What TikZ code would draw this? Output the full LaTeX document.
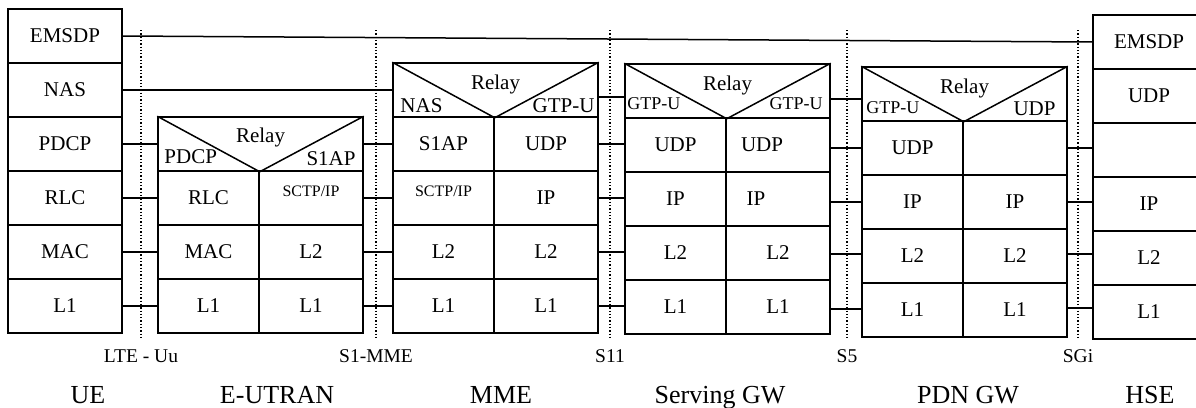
\documentclass[tikz,border=0pt]{standalone}
\usepackage{fontspec}
\setmainfont{Liberation Serif}
\usepackage{tikz}
\usetikzlibrary{calc}

\begin{document}
\begin{tikzpicture}[x=1pt, y=-1pt,
  layer/.style={draw, line width=1.5pt, inner sep=0pt, minimum height=54pt, font=\fontsize{21}{25}\selectfont},
  small/.style={font=\fontsize{16}{19}\selectfont, yshift=7pt},
  relaytxt/.style={inner sep=0pt, font=\fontsize{21}{25}\selectfont},
  gtptxt/.style={inner sep=0pt, font=\fontsize{18}{21}\selectfont},
  link/.style={line width=1.5pt},
  iface/.style={dotted, line width=1.3pt},
  ifacetxt/.style={anchor=base, inner sep=0pt, font=\fontsize{19.5}{23}\selectfont},
  entity/.style={anchor=base, inner sep=0pt, font=\fontsize{26}{30}\selectfont}]
\useasboundingbox (0,0) rectangle (1196,407);
%%% The dotted lines represents the interfaces
\coordinate (uu-top) at (141,30);   \coordinate (uu-bot) at (141,337);
\coordinate (s1-top) at (376,30);   \coordinate (s1-bot) at (376,337);
\coordinate (s11-top) at (610,30);  \coordinate (s11-bot) at (610,337);
\coordinate (s5-top) at (847,30);   \coordinate (s5-bot) at (847,337);
\coordinate (sgi-top) at (1078,30); \coordinate (sgi-bot) at (1078,337);
\draw[iface] (uu-top) -- (uu-bot);
\draw[iface] (s1-top) -- (s1-bot);
\draw[iface] (s11-top) -- (s11-bot);
\draw[iface] (s5-top) -- (s5-bot);
\draw[iface] (sgi-top) -- (sgi-bot);
\node[ifacetxt] (uu) at (141,362) {LTE - Uu};
\node[ifacetxt] (s1mme) at (376,362) {S1-MME};
\node[ifacetxt] (s11) at (610,362) {S11};
\node[ifacetxt] (s5) at (847,362) {S5};
\node[ifacetxt] (sgi) at (1078,362) {SGi};
%%% The nodes represents the UE stack
\node[layer, minimum width=114pt] (ue-emsdp) at (65,36) {EMSDP};
\node[layer, minimum width=114pt] (ue-nas) at (65,90) {NAS};
\node[layer, minimum width=114pt] (ue-pdcp) at (65,144) {PDCP};
\node[layer, minimum width=114pt] (ue-rlc) at (65,198) {RLC};
\node[layer, minimum width=114pt] (ue-mac) at (65,252) {MAC};
\node[layer, minimum width=114pt] (ue-l1) at (65,306) {L1};
%%% The nodes represents the E-UTRAN stack
\node[layer, minimum width=205pt] (enb-relay) at (260.5,144) {};
\node[layer, minimum width=101pt] (enb-rlc) at (208.5,198) {RLC};
\node[layer, minimum width=104pt] (enb-sctp) at (311,198) {};
\node[small] (enb-sctptxt) at (311,198) {SCTP/IP};
\node[layer, minimum width=101pt] (enb-mac) at (208.5,252) {MAC};
\node[layer, minimum width=104pt] (enb-l2) at (311,252) {L2};
\node[layer, minimum width=101pt] (enb-l1a) at (208.5,306) {L1};
\node[layer, minimum width=104pt] (enb-l1b) at (311,306) {L1};
\draw[link] (enb-relay.north west) -- (enb-relay.south west -| enb-rlc.east) -- (enb-relay.north east);
\node[relaytxt, anchor=north] (enb-relaytxt) at ([yshift=-11pt]enb-relay.north) {Relay};
\node[relaytxt, anchor=base west] (enb-pdcp) at ([xshift=7pt, yshift=8pt]enb-relay.south west) {PDCP};
\node[relaytxt, anchor=base east] (enb-s1ap) at ([xshift=-8pt, yshift=6pt]enb-relay.south east) {S1AP};
%%% The nodes represents the MME stack
\node[layer, minimum width=205pt] (mme-relay) at (495.5,90) {};
\node[layer, minimum width=101pt] (mme-s1ap) at (443.5,144) {S1AP};
\node[layer, minimum width=104pt] (mme-udp) at (546,144) {UDP};
\node[layer, minimum width=101pt] (mme-sctp) at (443.5,198) {};
\node[small] (mme-sctptxt) at (443.5,198) {SCTP/IP};
\node[layer, minimum width=104pt] (mme-ip) at (546,198) {IP};
\node[layer, minimum width=101pt] (mme-l2a) at (443.5,252) {L2};
\node[layer, minimum width=104pt] (mme-l2b) at (546,252) {L2};
\node[layer, minimum width=101pt] (mme-l1a) at (443.5,306) {L1};
\node[layer, minimum width=104pt] (mme-l1b) at (546,306) {L1};
\draw[link] (mme-relay.north west) -- (mme-relay.south west -| mme-s1ap.east) -- (mme-relay.north east);
\node[relaytxt, anchor=north] (mme-relaytxt) at ([yshift=-12pt]mme-relay.north) {Relay};
\node[relaytxt, anchor=base west] (mme-nas) at ([xshift=8pt, yshift=5pt]mme-relay.south west) {NAS};
\node[relaytxt, anchor=base east] (mme-gtp) at ([xshift=-4pt, yshift=5pt]mme-relay.south east) {GTP-U};
%%% The nodes represents the Serving GW stack
\node[layer, minimum width=205pt] (sgw-relay) at (727.5,91) {};
\node[layer, minimum width=101pt] (sgw-udpa) at (675.5,145) {UDP};
\node[layer, minimum width=104pt] (sgw-udpb) at (778,145) {};
\node[layer, draw=none] (sgw-udptxt) at (762,145) {UDP};
\node[layer, minimum width=101pt] (sgw-ipa) at (675.5,199) {IP};
\node[layer, minimum width=104pt] (sgw-ipb) at (778,199) {};
\node[layer, draw=none] (sgw-iptxt) at (756,199) {IP};
\node[layer, minimum width=101pt] (sgw-l2a) at (675.5,253) {L2};
\node[layer, minimum width=104pt] (sgw-l2b) at (778,253) {L2};
\node[layer, minimum width=101pt] (sgw-l1a) at (675.5,307) {L1};
\node[layer, minimum width=104pt] (sgw-l1b) at (778,307) {L1};
\draw[link] (sgw-relay.north west) -- (sgw-relay.south west -| sgw-udpa.east) -- (sgw-relay.north east);
\node[relaytxt, anchor=north] (sgw-relaytxt) at ([yshift=-12pt]sgw-relay.north) {Relay};
\node[gtptxt, anchor=base west] (sgw-gtpa) at ([xshift=3pt, yshift=9pt]sgw-relay.south west) {GTP-U};
\node[gtptxt, anchor=base east] (sgw-gtpb) at ([xshift=-8pt, yshift=9pt]sgw-relay.south east) {GTP-U};
%%% The nodes represents the PDN GW stack
\node[layer, minimum width=205pt] (pdn-relay) at (964.5,94) {};
\node[layer, minimum width=101pt] (pdn-udp) at (912.5,148) {UDP};
\node[layer, minimum width=104pt] (pdn-empty) at (1015,148) {};
\node[layer, minimum width=101pt] (pdn-ipa) at (912.5,202) {IP};
\node[layer, minimum width=104pt] (pdn-ipb) at (1015,202) {IP};
\node[layer, minimum width=101pt] (pdn-l2a) at (912.5,256) {L2};
\node[layer, minimum width=104pt] (pdn-l2b) at (1015,256) {L2};
\node[layer, minimum width=101pt] (pdn-l1a) at (912.5,310) {L1};
\node[layer, minimum width=104pt] (pdn-l1b) at (1015,310) {L1};
\draw[link] (pdn-relay.north west) -- (pdn-relay.south west -| pdn-udp.east) -- (pdn-relay.north east);
\node[relaytxt, anchor=north] (pdn-relaytxt) at ([yshift=-12pt]pdn-relay.north) {Relay};
\node[gtptxt, anchor=base west] (pdn-gtp) at ([xshift=5pt, yshift=8pt]pdn-relay.south west) {GTP-U};
\node[relaytxt, anchor=base east] (pdn-udptop) at ([xshift=-12pt, yshift=6pt]pdn-relay.south east) {UDP};
%%% The nodes represents the HSE stack
\node[layer, minimum width=112pt] (hse-emsdp) at (1149,42) {EMSDP};
\node[layer, minimum width=112pt] (hse-udp) at (1149,96) {UDP};
\node[layer, minimum width=112pt] (hse-empty) at (1149,150) {};
\node[layer, minimum width=112pt] (hse-ip) at (1149,204) {IP};
\node[layer, minimum width=112pt] (hse-l2) at (1149,258) {L2};
\node[layer, minimum width=112pt] (hse-l1) at (1149,312) {L1};
%%%%%% The edges represents the peer layers
\draw[link] (ue-emsdp.east) -- (hse-emsdp.west);
\draw[link] (ue-nas.east) -- (ue-nas.east -| mme-relay.west);
%
\draw[link] (ue-pdcp.east) -- (ue-pdcp.east -| enb-relay.west);
\draw[link] (ue-rlc.east) -- (enb-rlc.west);
\draw[link] (ue-mac.east) -- (enb-mac.west);
\draw[link] (ue-l1.east) -- (enb-l1a.west);
%
\draw[link] (enb-relay.east) -- (mme-s1ap.west);
\draw[link] (enb-sctp.east) -- (mme-sctp.west);
\draw[link] (enb-l2.east) -- (mme-l2a.west);
\draw[link] (enb-l1b.east) -- (mme-l1a.west);
%
\draw[link] ([yshift=-7pt]mme-relay.east) -- ([yshift=-7pt]mme-relay.east -| sgw-relay.west);
\draw[link] (mme-udp.east) -- (mme-udp.east -| sgw-udpa.west);
\draw[link] (mme-ip.east) -- (mme-ip.east -| sgw-ipa.west);
\draw[link] (mme-l2b.east) -- (mme-l2b.east -| sgw-l2a.west);
\draw[link] (mme-l1b.east) -- (mme-l1b.east -| sgw-l1a.west);
%
\draw[link] ([yshift=-8pt]sgw-relay.east) -- ([yshift=-8pt]sgw-relay.east -| pdn-relay.west);
\draw[link] ([yshift=-3pt]sgw-udpb.east) -- ([yshift=-3pt]sgw-udpb.east -| pdn-udp.west);
\draw[link] ([yshift=-3pt]sgw-ipb.east) -- ([yshift=-3pt]sgw-ipb.east -| pdn-ipa.west);
\draw[link] ([yshift=-1pt]sgw-l2b.east) -- ([yshift=-1pt]sgw-l2b.east -| pdn-l2a.west);
\draw[link] ([yshift=-2pt]sgw-l1b.east) -- ([yshift=-2pt]sgw-l1b.east -| pdn-l1a.west);
%
\draw[link] (pdn-empty.east) -- (pdn-empty.east -| hse-empty.west);
\draw[link] (pdn-ipb.east) -- (pdn-ipb.east -| hse-ip.west);
\draw[link] ([yshift=2pt]pdn-l2b.east) -- ([yshift=2pt]pdn-l2b.east -| hse-l2.west);
\draw[link] ([yshift=2pt]pdn-l1b.east) -- ([yshift=2pt]pdn-l1b.east -| hse-l1.west);
%%% The names of the network entities
\node[entity] (ue) at (88,403) {UE};
\node[entity] (eutran) at (277,403) {E-UTRAN};
\node[entity] (mme) at (501,403) {MME};
\node[entity] (sgw) at (720,403) {Serving GW};
\node[entity] (pdngw) at (968,403) {PDN GW};
\node[entity] (hse) at (1150,403) {HSE};
\end{tikzpicture}
\end{document}
